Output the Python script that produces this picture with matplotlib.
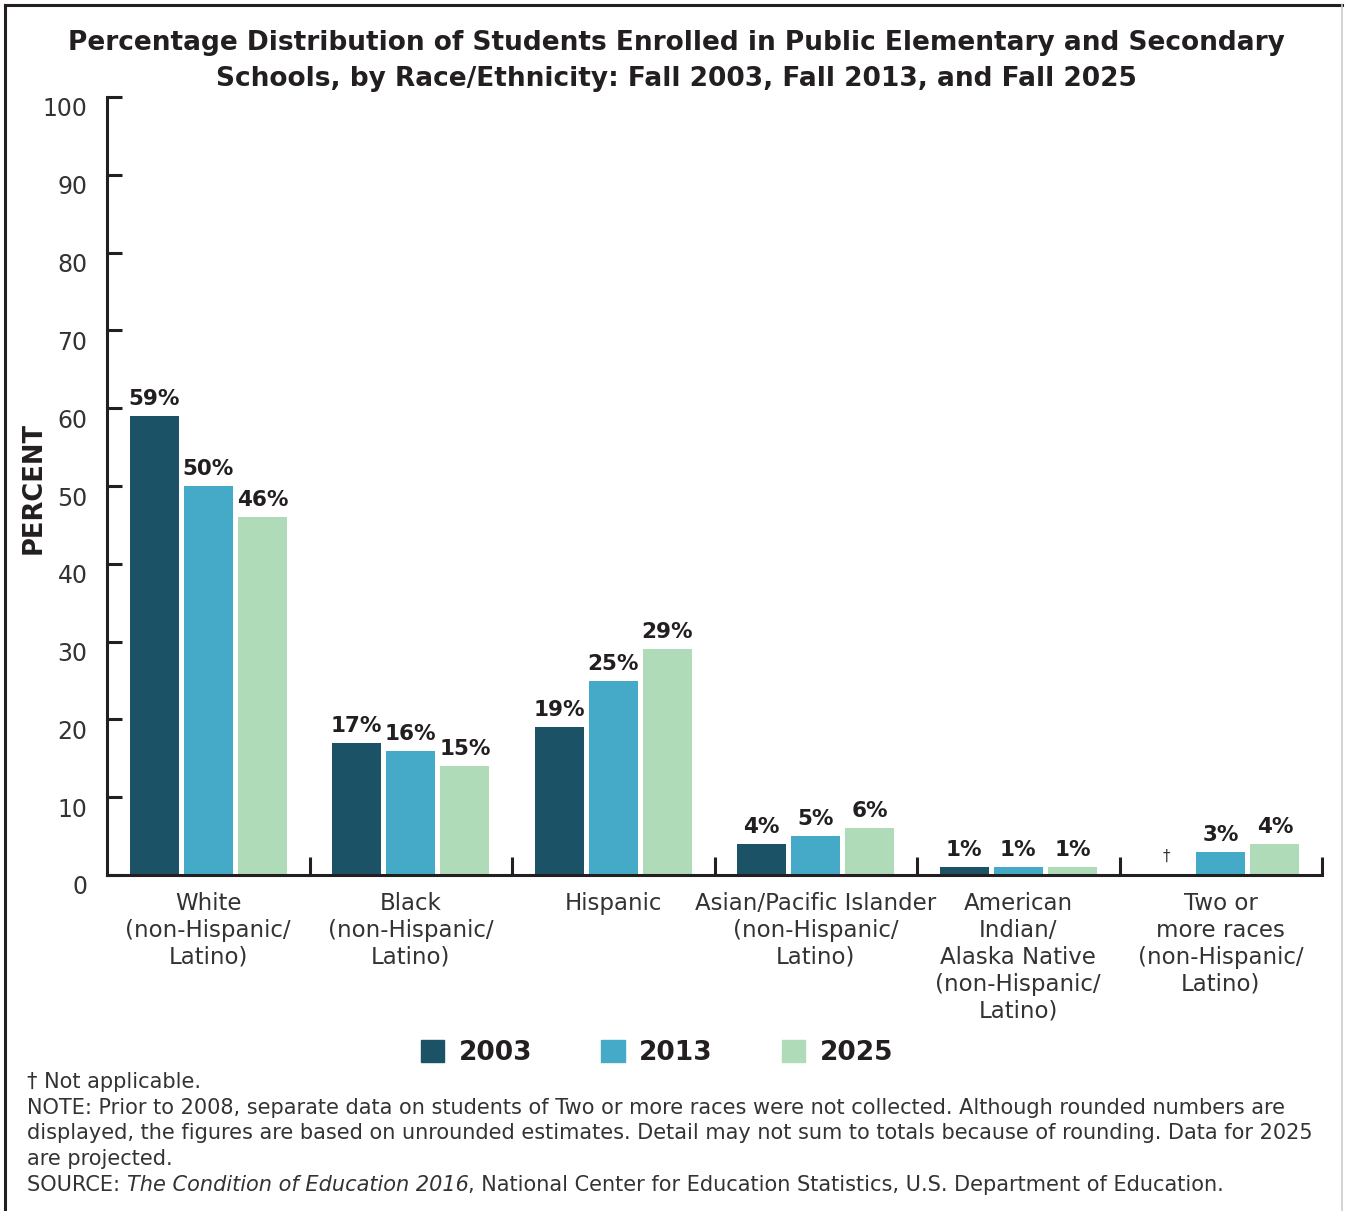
import numpy as np
import matplotlib
matplotlib.use("Agg")
import matplotlib.pyplot as plt
import matplotlib.transforms as mtransforms
from matplotlib.patches import Rectangle
from matplotlib.lines import Line2D

categories = ["White\n(non-Hispanic/\nLatino)", "Black\n(non-Hispanic/\nLatino)", "Hispanic",
              "Asian/Pacific Islander\n(non-Hispanic/\nLatino)",
              "American\nIndian/\nAlaska Native\n(non-Hispanic/\nLatino)",
              "Two or\nmore races\n(non-Hispanic/\nLatino)"]
years = ["2003", "2013", "2025"]
vals_2003 = [59, 17, 19, 4, 1, np.nan]
vals_2013 = [50, 16, 25, 5, 1, 3]
vals_2025 = [46, 14, 29, 6, 1, 4]
labels_2003 = ["59%", "17%", "19%", "4%", "1%", "\u2020"]
labels_2013 = ["50%", "16%", "25%", "5%", "1%", "3%"]
labels_2025 = ["46%", "15%", "29%", "6%", "1%", "4%"]
yticks = [0, 10, 20, 30, 40, 50, 60, 70, 80, 90, 100]
colors = ["#1c5266", "#44aac8", "#b0dbb8"]

FONT = "DejaVu Sans"
dark = "#231f20"
txt = "#333333"

fig = plt.figure(figsize=(13.47, 12.11), dpi=100)
ax = fig.add_axes([107/1347, 1 - 875/1211, (1322-107)/1347, (875-97)/1211])

x = np.arange(len(categories))
offs = [-0.267, 0.0, 0.267]
w = 0.242
series = [vals_2003, vals_2013, vals_2025]
labs = [labels_2003, labels_2013, labels_2025]
for s, (vals, lab, off, c) in enumerate(zip(series, labs, offs, colors)):
    v = np.array(vals, dtype=float)
    ax.bar(x + off, np.nan_to_num(v), width=w, color=c, zorder=2)
    for i, (vi, li) in enumerate(zip(v, lab)):
        if np.isnan(vi):
            ax.text(x[i] + off, 1.5, li, ha="center", va="bottom", fontsize=11,
                    color=txt, family=FONT)
        else:
            ax.annotate(li, (x[i] + off, vi), xytext=(0, 5), textcoords="offset points",
                        ha="center", va="bottom", fontsize=15.5, fontweight="bold",
                        color=dark, family=FONT)

ax.set_xlim(-0.5, 5.5)
ax.set_ylim(0, 100)
ax.set_yticks(yticks)
ax.set_yticklabels([str(t) for t in yticks], fontsize=17, color=txt, family=FONT)
ax.tick_params(axis="y", direction="in", length=11, width=2.2, color=dark, pad=14)
shift = mtransforms.ScaledTranslation(0, -10/100, fig.dpi_scale_trans)
for lbl in ax.get_yticklabels():
    lbl.set_transform(lbl.get_transform() + shift)
ax.set_xticks(x)
ax.set_xticklabels(categories, fontsize=16.5, color=txt, family=FONT, linespacing=1.22)
ax.tick_params(axis="x", length=0, pad=12)
ax.set_xticks(np.arange(0.5, 6.0, 1.0), minor=True)
ax.tick_params(axis="x", which="minor", direction="in", length=13, width=2.2, color=dark)
for sp in ["top", "right"]:
    ax.spines[sp].set_visible(False)
for sp in ["left", "bottom"]:
    ax.spines[sp].set_linewidth(2.2)
    ax.spines[sp].set_color(dark)

fig.text(34/1347, 1 - 488/1211, "PERCENT", rotation=90, ha="center", va="center",
         fontsize=18.5, fontweight="bold", color=dark, family=FONT)

fig.text(676/1347, 1 - 61/1211,
         "Percentage Distribution of Students Enrolled in Public Elementary and Secondary\n"
         "Schools, by Race/Ethnicity: Fall 2003, Fall 2013, and Fall 2025",
         ha="center", va="center", fontsize=19, fontweight="bold", color=dark,
         family=FONT, linespacing=1.45)

# legend
handles = [Rectangle((0, 0), 1, 1, color=c) for c in colors]
leg = fig.legend(handles, years, loc="center", bbox_to_anchor=(657/1347, 1 - 1053/1211),
                 ncol=3, frameon=False, handlelength=0.9, handleheight=0.9,
                 columnspacing=2.6, handletextpad=0.55,
                 prop={"family": FONT, "weight": "bold", "size": 19})
for t in leg.get_texts():
    t.set_color(dark)

FS = 15.0
foot = ["\u2020 Not applicable.",
        "NOTE: Prior to 2008, separate data on students of Two or more races were not collected. Although rounded numbers are",
        "displayed, the figures are based on unrounded estimates. Detail may not sum to totals because of rounding. Data for 2025",
        "are projected."]
ys = [1082, 1108, 1133, 1159]
for s, yy in zip(foot, ys):
    fig.text(27/1347, 1 - yy/1211, s, ha="left", va="center", fontsize=FS,
             color=txt, family=FONT)
t1 = fig.text(27/1347, 1 - 1185/1211, "SOURCE: ", ha="left", va="center", fontsize=FS,
              color=txt, family=FONT)
fig.canvas.draw()
r = fig.canvas.get_renderer()
bb = t1.get_window_extent(r)
t2 = fig.text(bb.x1/1347, 1 - 1185/1211, "The Condition of Education 2016", ha="left",
              va="center", fontsize=FS, color=txt, family=FONT, style="italic")
bb2 = t2.get_window_extent(r)
fig.text(bb2.x1/1347, 1 - 1185/1211,
         ", National Center for Education Statistics, U.S. Department of Education.",
         ha="left", va="center", fontsize=FS, color=txt, family=FONT)

# frame
fig.add_artist(Line2D([5/1347, 5/1347], [0, 1 - 5/1211], transform=fig.transFigure,
                      color=dark, lw=2.2))
fig.add_artist(Line2D([5/1347, 1342/1347], [1 - 5/1211, 1 - 5/1211], transform=fig.transFigure,
                      color=dark, lw=2.2))
fig.add_artist(Line2D([1342/1347, 1342/1347], [0, 1 - 5/1211], transform=fig.transFigure,
                      color="#cccccc", lw=1.2))

fig.savefig("out.png", dpi=100, facecolor="white")
